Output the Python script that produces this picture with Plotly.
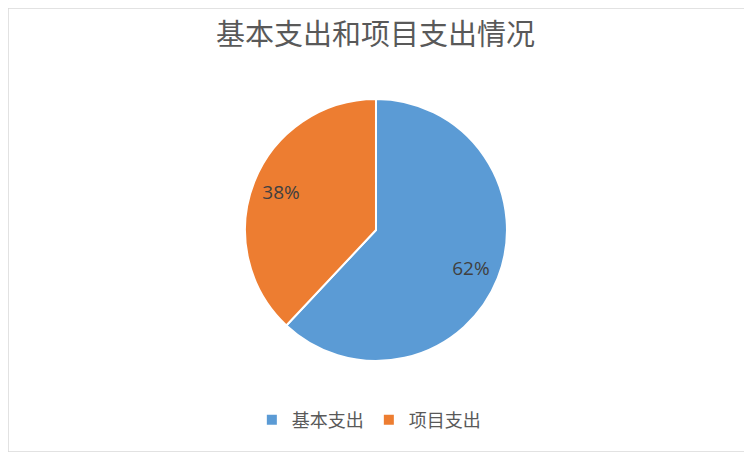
import plotly.graph_objects as go

# data
labels = ["基本支出", "项目支出"]
shares = [62, 38]
colors = ["#5B9BD5", "#ED7D31"]
title_text = "基本支出和项目支出情况"

pie_domain = dict(x=[0, 0.9892], y=[0.205, 0.795])

fig = go.Figure()

# the filled pie
fig.add_trace(
    go.Pie(
        labels=labels,
        values=shares,
        sort=False,
        direction="clockwise",
        rotation=0,
        marker=dict(colors=colors, line=dict(color="white", width=2)),
        textinfo="none",
        domain=pie_domain,
        hoverinfo="label+percent",
    )
)

# transparent ring on top, only used to place the percent labels further out
fig.add_trace(
    go.Pie(
        labels=labels,
        values=shares,
        sort=False,
        direction="clockwise",
        rotation=0,
        hole=0.56,
        marker=dict(colors=["rgba(0,0,0,0)"] * len(labels), line=dict(width=0)),
        texttemplate="%{percent:.0%}",
        textposition="inside",
        insidetextorientation="horizontal",
        textfont=dict(family="Open Sans", size=19, color="#404040"),
        domain=pie_domain,
        showlegend=False,
        hoverinfo="skip",
    )
)

fig.update_layout(
    title=dict(
        text=title_text,
        x=0.494,
        xanchor="center",
        y=0.9392,
        yanchor="middle",
        font=dict(family="Noto Sans CJK SC", size=29, color="#595959"),
    ),
    legend=dict(
        orientation="h",
        x=0.485,
        xanchor="center",
        y=0.072,
        yanchor="middle",
        itemwidth=30,
        font=dict(family="Noto Sans CJK SC", size=18, color="#595959"),
        itemclick=False,
    ),
    shapes=[
        dict(
            type="rect", xref="paper", yref="paper",
            x0=0, y0=0, x1=1, y1=1,
            line=dict(color="#D9D9D9", width=1.5),
        )
    ],
    margin=dict(l=0, r=0, t=0, b=0),
    paper_bgcolor="white",
    plot_bgcolor="white",
    width=744,
    height=444,
)

fig.write_html("out.html")
